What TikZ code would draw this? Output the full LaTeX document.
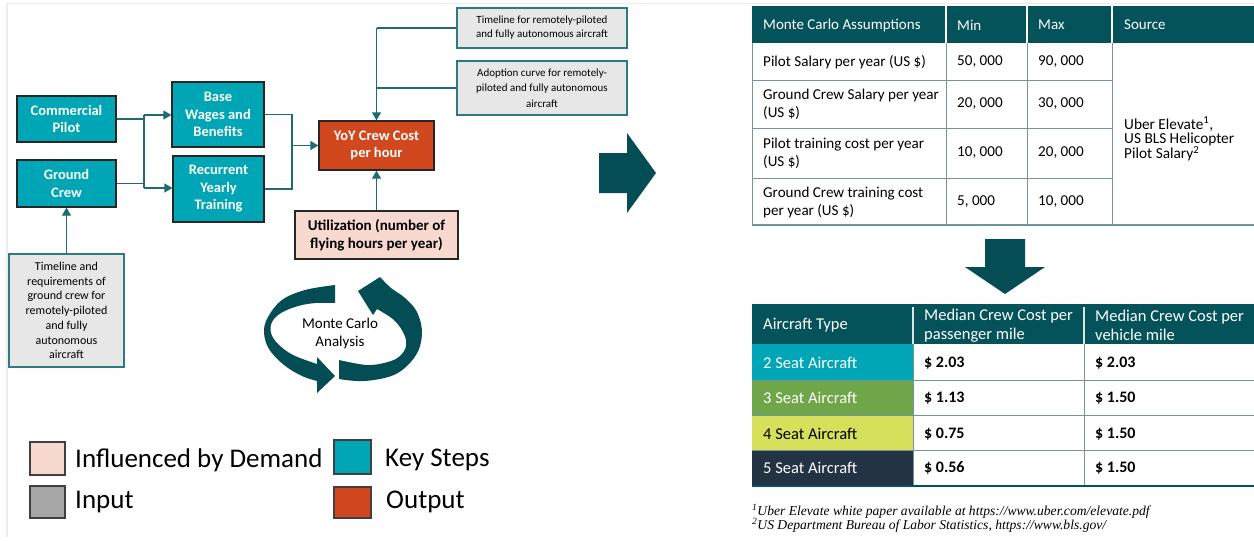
\documentclass[tikz,border=0pt]{standalone}
\usepackage{fontspec}
\setmainfont{Carlito}
\newfontfamily\fnfont{Liberation Serif}
\usetikzlibrary{arrows.meta}
\definecolor{keyteal}{RGB}{0,166,182}
\definecolor{hdrteal}{RGB}{4,82,90}
\definecolor{ribbon}{RGB}{4,77,84}
\definecolor{conncol}{RGB}{30,108,114}
\definecolor{inbord}{RGB}{44,123,128}
\definecolor{infill}{RGB}{231,231,231}
\definecolor{outred}{RGB}{210,72,30}
\definecolor{pinkfill}{RGB}{248,217,207}
\definecolor{legray}{RGB}{166,166,166}
\definecolor{green3}{RGB}{112,166,74}
\definecolor{yellow4}{RGB}{214,224,90}
\definecolor{navy5}{RGB}{35,51,67}
\definecolor{tline}{RGB}{110,150,155}
\definecolor{frame}{RGB}{236,236,236}
\begin{document}
\begin{tikzpicture}[x=1pt,y=-1pt,
  keybox/.style={fill=keyteal,draw=black!85,line width=1.3pt,text=white,align=center,inner sep=0pt,
    font=\bfseries\fontsize{14.5}{17.5}\selectfont},
  inbox/.style={fill=infill,draw=inbord,line width=1.2pt,align=center,inner sep=0pt,
    font=\fontsize{12}{14.7}\selectfont},
  conn/.style={draw=conncol,line width=1.3pt},
  arr/.style={conn,-{Triangle[length=8pt,width=9pt]}},
  lsq/.style={draw=black!75,line width=1.3pt},
  legtxt/.style={anchor=west,inner sep=0pt,font=\fontsize{27}{30}\selectfont},
  cell/.style={anchor=west,inner sep=0pt,align=left,font=\fontsize{15.1}{18}\selectfont},
  hcell/.style={cell,text=white,font=\fontsize{15}{18}\selectfont},
  bcell/.style={anchor=west,inner sep=0pt,align=left,font=\fontsize{16.5}{19}\selectfont},
  vcell/.style={anchor=west,inner sep=0pt,font=\bfseries\fontsize{16}{19}\selectfont},
  bigarrow/.style={fill=ribbon}
]
\useasboundingbox (0,0) rectangle (1254,541);
\fill[white] (0,0) rectangle (1254,541);
% faint frame
\draw[frame,line width=1.5pt] (7,537) -- (7,3.5) -- (1254,3.5);

% ---------- left flow chart ----------
\node[keybox,minimum width=99pt,minimum height=46pt] (cp) at (66.5,119) {Commercial\\Pilot};
\node[keybox,minimum width=99pt,minimum height=47pt] (gc) at (66.5,183.5) {Ground\\Crew};
\node[keybox,minimum width=92pt,minimum height=65pt] (bw) at (218,114.5) {Base\\Wages and\\Benefits};
\node[keybox,minimum width=91pt,minimum height=66pt] (ryt) at (218.5,189) {Recurrent\\Yearly\\Training};
\node[keybox,fill=outred,minimum width=115pt,minimum height=49pt] (yoy) at (376.5,145.5) {YoY Crew Cost\\per hour};
\node[keybox,fill=pinkfill,text=black,minimum width=163pt,minimum height=48pt,font=\bfseries\fontsize{15}{18.5}\selectfont] (util) at (376.5,235) {Utilization (number of\\flying hours per year)};
\node[inbox,minimum width=170pt,minimum height=40pt,font=\fontsize{11}{14}\selectfont] (tl) at (542,28) {Timeline for remotely-piloted\\and fully autonomous aircraft};
\node[inbox,minimum width=170pt,minimum height=54pt,font=\fontsize{11}{15.5}\selectfont] (ad) at (542,88) {Adoption curve for remotely-\\piloted and fully autonomous\\aircraft};
\node[inbox,minimum width=115pt,minimum height=113pt] (gin) at (66.5,310.5) {Timeline and\\requirements of\\ground crew for\\remotely-piloted\\and fully\\autonomous\\aircraft};

\coordinate (j1) at (144,115);
\coordinate (j2) at (144,188);
\coordinate (j3) at (292,145.5);
\coordinate (j4) at (376.5,28);
\draw[conn] (cp.east) -| (j1);
\draw[conn] (gc.east) -| (j2);
\draw[conn] (j1) -- (j2);
\draw[arr] (j1) -- (j1 -| bw.west);
\draw[arr] (j2) -- (j2 -| ryt.west);
\draw[conn] (bw.east) -| (j3);
\draw[conn] (ryt.east) -| (j3);
\draw[arr] (j3) -- (yoy.west);
\draw[conn] (tl.west) -- (j4);
\draw[conn] (ad.west) -- (ad.west -| j4);
\draw[arr] (j4) -- (yoy.north);
\draw[arr] (util.north) -- (yoy.south);
\draw[arr] (gin.north) -- (gc.south);

% ---------- Monte Carlo cycle ----------
\fill[ribbon] (335,285) -- plot[smooth,tension=0.6] coordinates {(335,285) (305,290) (282,300) (268,317) (264,332) (269,349) (284,365) (302,376) (317,381)}
  -- (317,393) -- (335,376) -- (317,357) -- (317,364)
  -- plot[smooth,tension=0.6] coordinates {(317,364) (293,355) (278,344) (271,333) (272,322) (281,313) (298,306) (316,303) (335,303)} -- cycle;
\fill[ribbon] (339,360) -- (339,379) -- plot[smooth,tension=0.6] coordinates {(339,379) (365,381) (396,374) (416,355) (422,333) (417,312) (405,298) (391,288) (380,277)}
  -- (358,291) -- (373,315) -- (377,309)
  -- plot[smooth,tension=0.6] coordinates {(377,309) (394,320) (404,334) (406,346) (400,356) (388,362) (367,365) (339,360)} -- cycle;
\node[align=center,inner sep=0pt,font=\fontsize{15}{18}\selectfont] (mc) at (340,333) {Monte Carlo\\Analysis};

% ---------- legend ----------
\draw[lsq,fill=pinkfill] (30,442) rectangle (65,475);
\draw[lsq,fill=keyteal] (334,440) rectangle (371,474);
\draw[lsq,fill=legray] (30,486) rectangle (65,518);
\draw[lsq,fill=outred] (334,487) rectangle (371,518);
\node[legtxt] (l1) at (75,460) {Influenced by Demand};
\node[legtxt] (l2) at (385,460) {Key Steps};
\node[legtxt] (l3) at (75,502) {Input};
\node[legtxt] (l4) at (386,502) {Output};

% ---------- big arrows ----------
\fill[bigarrow] (599,153) -- (627,153) -- (627,133) -- (656,173) -- (627,213) -- (627,193) -- (599,193) -- cycle;
\fill[bigarrow] (985,239) -- (1025,239) -- (1025,267) -- (1045,267) -- (1005,294) -- (965,267) -- (985,267) -- cycle;

% ---------- top table ----------
\fill[hdrteal] (752,6) rectangle (1254,43);
\draw[white,line width=1.2pt] (946,6) -- (946,43) (1027,6) -- (1027,43) (1112,6) -- (1112,43);
\draw[tline,line width=1pt] (752,43) -- (752,225)
  (946,43) -- (946,225) (1027,43) -- (1027,225) (1112,43) -- (1112,225)
  (752,80) -- (1112,80) (752,128) -- (1112,128) (752,178) -- (1112,178);
\draw[tline,line width=1.4pt] (752,225) -- (1254,225);
\node[hcell] (h1) at (763,25) {Monte Carlo Assumptions};
\node[hcell] (h2) at (957,25) {Min};
\node[hcell] (h3) at (1038,25) {Max};
\node[hcell] (h4) at (1124,25) {Source};
\node[cell] (a1) at (763,62) {Pilot Salary per year (US \$)};
\node[cell] (a2) at (763,104) {Ground Crew Salary per year\\(US \$)};
\node[cell] (a3) at (763,153) {Pilot training cost per year\\(US \$)};
\node[cell] (a4) at (763,202) {Ground Crew training cost\\per year (US \$)};
\node[cell] (b1) at (957,62) {50, 000};
\node[cell] (b2) at (957,104) {20, 000};
\node[cell] (b3) at (957,153) {10, 000};
\node[cell] (b4) at (957,202) {5, 000};
\node[cell] (c1) at (1038,62) {90, 000};
\node[cell] (c2) at (1038,104) {30, 000};
\node[cell] (c3) at (1038,153) {20, 000};
\node[cell] (c4) at (1038,202) {10, 000};
\node[cell,font=\fontsize{15.3}{14}\selectfont] (src) at (1124,139) {Uber Elevate\textsuperscript{1},\\US BLS Helicopter\\Pilot Salary\textsuperscript{2}};

% ---------- bottom table ----------
\fill[hdrteal] (752,304) rectangle (1254,344);
\fill[keyteal] (752,344) rectangle (913,380);
\fill[green3] (752,380) rectangle (913,415);
\fill[yellow4] (752,415) rectangle (913,450);
\fill[navy5] (752,450) rectangle (913,486);
\draw[white!85!hdrteal,line width=1.5pt] (913,307) -- (913,344) (1084,307) -- (1084,344);
\draw[tline,line width=1pt] (913,344) -- (913,486) (1084,344) -- (1084,486)
  (752,380) -- (1254,380) (752,415) -- (1254,415) (752,450) -- (1254,450);
\draw[hdrteal,line width=1.4pt] (752,486) -- (1254,486);
\node[bcell,text=white] (t1) at (763,325) {Aircraft Type};
\node[bcell,text=white] (t2) at (924,325.5) {Median Crew Cost per\\passenger mile};
\node[bcell,text=white] (t3) at (1095,325.5) {Median Crew Cost per\\vehicle mile};
\node[bcell,text=white] (r1) at (763,363) {2 Seat Aircraft};
\node[bcell,text=white] (r2) at (763,398) {3 Seat Aircraft};
\node[bcell,text=black] (r3) at (763,434) {4 Seat Aircraft};
\node[bcell,text=white] (r4) at (763,468) {5 Seat Aircraft};
\node[vcell] (p1) at (924,363) {\$ 2.03};
\node[vcell] (p2) at (924,398) {\$ 1.13};
\node[vcell] (p3) at (924,434) {\$ 0.75};
\node[vcell] (p4) at (924,468) {\$ 0.56};
\node[vcell] (v1) at (1095,363) {\$ 2.03};
\node[vcell] (v2) at (1095,398) {\$ 1.50};
\node[vcell] (v3) at (1095,434) {\$ 1.50};
\node[vcell] (v4) at (1095,468) {\$ 1.50};

% ---------- footnotes ----------
\node[anchor=west,inner sep=0pt,font=\fnfont\itshape\fontsize{13.6}{14}\selectfont] (fn1) at (752,511) {\textsuperscript{1}Uber Elevate white paper available at https://www.uber.com/elevate.pdf};
\node[anchor=west,inner sep=0pt,font=\fnfont\itshape\fontsize{13.6}{14}\selectfont] (fn2) at (752,525) {\textsuperscript{2}US Department Bureau of Labor Statistics, https://www.bls.gov/};
\end{tikzpicture}
\end{document}
